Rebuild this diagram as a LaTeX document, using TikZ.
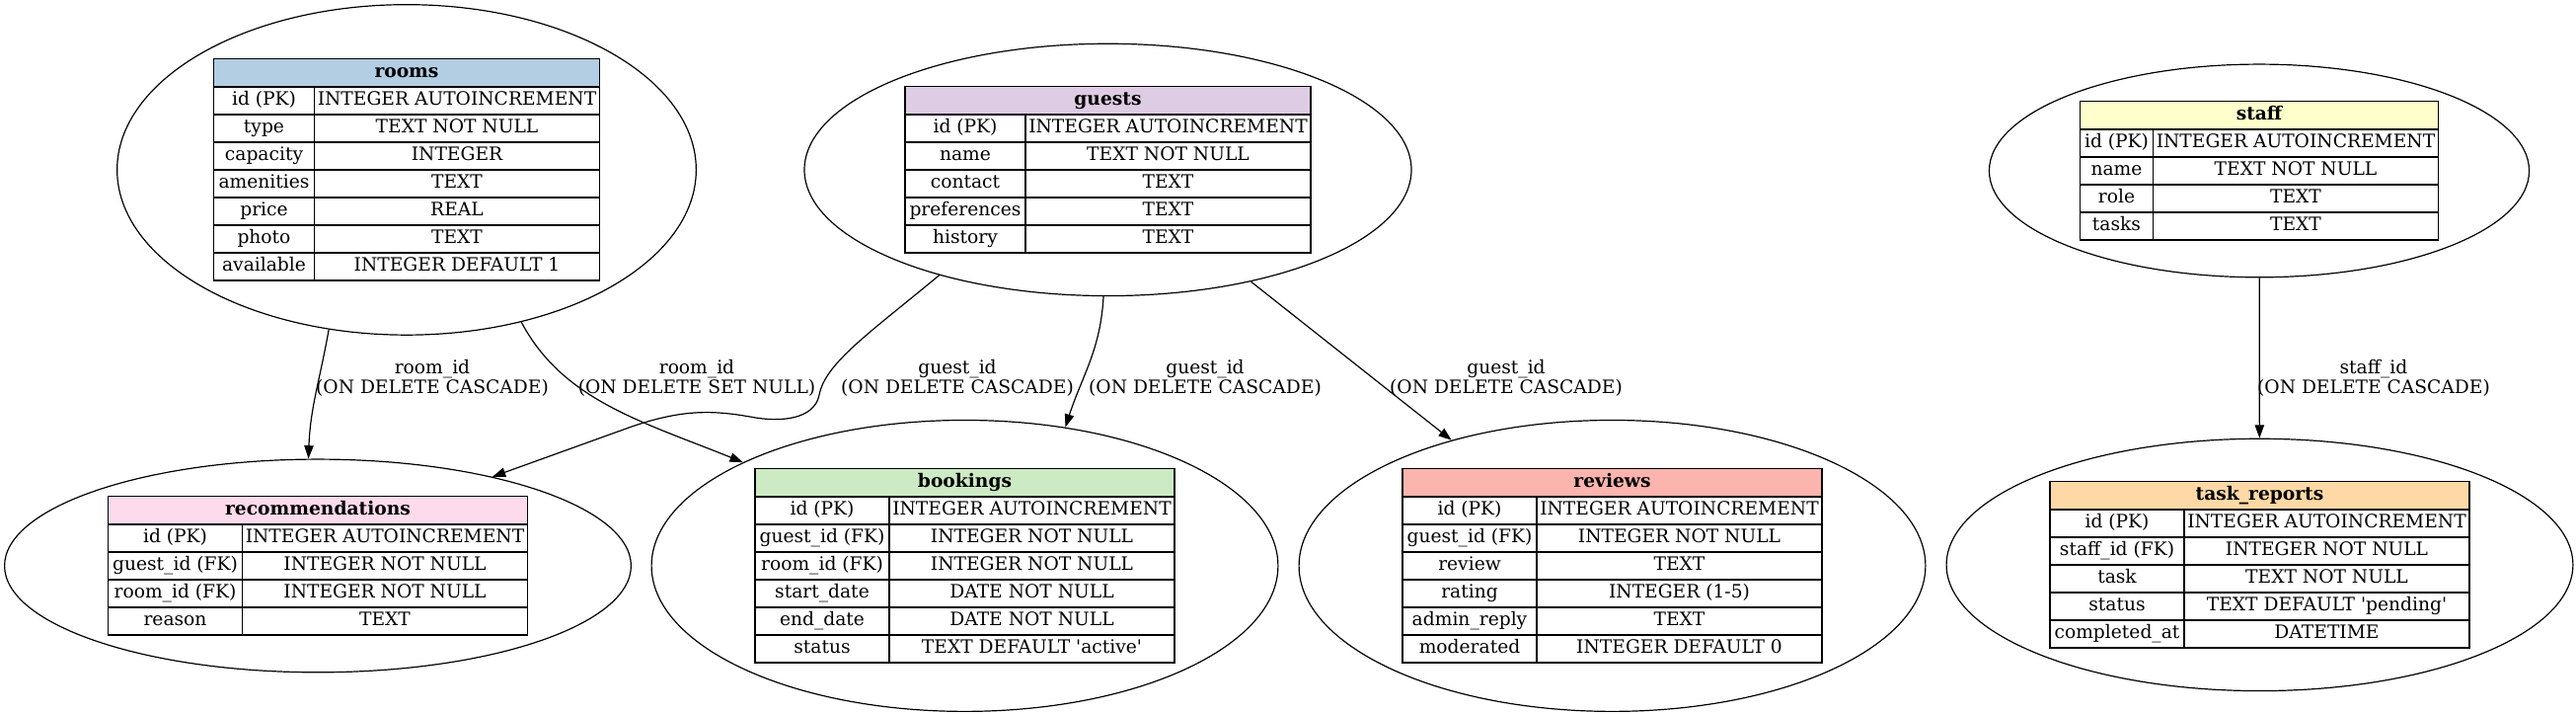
\documentclass[tikz,border=0pt]{standalone}
\usepackage{fontspec}
\setmainfont{DejaVu Serif}
\usepackage{tikz}
\usetikzlibrary{arrows.meta}
\usetikzlibrary{positioning}
\usetikzlibrary{matrix,fit,shapes.geometric}

\definecolor{roomsblue}{HTML}{B3CDE3}
\definecolor{guestspurple}{HTML}{DECBE4}
\definecolor{staffyellow}{HTML}{FFFFCC}
\definecolor{recspink}{HTML}{FDDAEC}
\definecolor{bookingsgreen}{HTML}{CCEBC5}
\definecolor{reviewsred}{HTML}{FBB4AE}
\definecolor{tasksorange}{HTML}{FED9A6}

\tikzset{%
  cellfont/.style={font=\fontsize{14}{16}\selectfont},
  tblhead/.style={draw,line width=1pt,font=\fontsize{14}{16}\selectfont\bfseries,
    minimum height=21pt,inner sep=0pt,text height=10.5pt,text depth=3.5pt,anchor=north},
  tblbody/.style={matrix of nodes,inner sep=0pt,column sep=-1pt,row sep=-1pt,
    nodes={draw,line width=1pt,cellfont,minimum height=21pt,inner sep=0pt,
      text height=10.5pt,text depth=3.5pt,anchor=center},
    column 2/.style={nodes={minimum width=216.75pt}}},
  tblellipse/.style={ellipse,draw,line width=0.9pt,inner xsep=8.25pt,inner ysep=4pt},
  fkedge/.style={->,line width=0.9pt},
  fklabel/.style={font=\fontsize{14}{15}\selectfont,align=center,inner sep=0pt}
}
\pgfkeys{tikz/firstcol/.style={column 1/.style={nodes={minimum width=#1}}}}
\newcommand\sq{\textquotesingle}

\begin{document}
\begin{tikzpicture}[x=0.75pt,y=0.75pt,>={Triangle[length=10pt,width=7pt]}]
    \path[use as bounding box,fill=white] (0,0) rectangle (2610,-723);

    % top row
    \node[tblhead,fill=roomsblue,minimum width=293.25pt] (roomsH) at (412,-59) {rooms};
    \matrix[tblbody,firstcol=76.5pt,ampersand replacement=\&,below=-1pt of roomsH] (rooms) {
        id (PK) \& INTEGER AUTOINCREMENT \\
        type \& TEXT NOT NULL \\
        capacity \& INTEGER \\
        amenities \& TEXT \\
        price \& REAL \\
        photo \& TEXT \\
        available \& INTEGER DEFAULT 1 \\
    };
    \node[tblellipse,fit=(roomsH)(rooms)] (roomsE) {};

    \node[tblhead,fill=guestspurple,minimum width=308.25pt] (guestsH) at (1122.5,-87) {guests};
    \matrix[tblbody,firstcol=91.5pt,ampersand replacement=\&,below=-1pt of guestsH] (guests) {
        id (PK) \& INTEGER AUTOINCREMENT \\
        name \& TEXT NOT NULL \\
        contact \& TEXT \\
        preferences \& TEXT \\
        history \& TEXT \\
    };
    \node[tblellipse,fit=(guestsH)(guests)] (guestsE) {};

    \node[tblhead,fill=staffyellow,minimum width=272.25pt] (staffH) at (2289,-102) {staff};
    \matrix[tblbody,firstcol=55.5pt,ampersand replacement=\&,below=-1pt of staffH] (staff) {
        id (PK) \& INTEGER AUTOINCREMENT \\
        name \& TEXT NOT NULL \\
        role \& TEXT \\
        tasks \& TEXT \\
    };
    \node[tblellipse,fit=(staffH)(staff)] (staffE) {};

    % bottom row
    \node[tblhead,fill=recspink,minimum width=318.75pt] (recsH) at (322,-502) {recommendations};
    \matrix[tblbody,firstcol=102pt,ampersand replacement=\&,below=-1pt of recsH] (recs) {
        id (PK) \& INTEGER AUTOINCREMENT \\
        guest\_id (FK) \& INTEGER NOT NULL \\
        room\_id (FK) \& INTEGER NOT NULL \\
        reason \& TEXT \\
    };
    \node[tblellipse,fit=(recsH)(recs)] (recsE) {};

    \node[tblhead,fill=bookingsgreen,minimum width=318.75pt] (bookingsH) at (977.5,-474) {bookings};
    \matrix[tblbody,firstcol=102pt,ampersand replacement=\&,below=-1pt of bookingsH] (bookings) {
        id (PK) \& INTEGER AUTOINCREMENT \\
        guest\_id (FK) \& INTEGER NOT NULL \\
        room\_id (FK) \& INTEGER NOT NULL \\
        start\_date \& DATE NOT NULL \\
        end\_date \& DATE NOT NULL \\
        status \& TEXT DEFAULT \sq active\sq \\
    };
    \node[tblellipse,fit=(bookingsH)(bookings)] (bookingsE) {};

    \node[tblhead,fill=reviewsred,minimum width=318.75pt] (reviewsH) at (1633.5,-474) {reviews};
    \matrix[tblbody,firstcol=102pt,ampersand replacement=\&,below=-1pt of reviewsH] (reviews) {
        id (PK) \& INTEGER AUTOINCREMENT \\
        guest\_id (FK) \& INTEGER NOT NULL \\
        review \& TEXT \\
        rating \& INTEGER (1-5) \\
        admin\_reply \& TEXT \\
        moderated \& INTEGER DEFAULT 0 \\
    };
    \node[tblellipse,fit=(reviewsH)(reviews)] (reviewsE) {};

    \node[tblhead,fill=tasksorange,minimum width=318.75pt] (tasksH) at (2289.5,-487) {task\_reports};
    \matrix[tblbody,firstcol=102pt,ampersand replacement=\&,below=-1pt of tasksH] (tasks) {
        id (PK) \& INTEGER AUTOINCREMENT \\
        staff\_id (FK) \& INTEGER NOT NULL \\
        task \& TEXT NOT NULL \\
        status \& TEXT DEFAULT \sq pending\sq \\
        completed\_at \& DATETIME \\
    };
    \node[tblellipse,fit=(tasksH)(tasks)] (tasksE) {};

    % foreign keys
    \draw[fkedge] (roomsE.-116) to[out=-100,in=88] (recsE.95);
    \draw[fkedge] (roomsE.-53) to[out=-62,in=158,out distance=67.5pt,in distance=82.5pt] (bookingsE.155);
    \draw[fkedge] (guestsE.-148) .. controls (880,-338) and (836,-368) .. (830,-400)
        .. controls (825,-425) and (790,-428) .. (760,-422)
        .. controls (720,-415) and (690,-415) .. (640,-432) -- (recsE.27);
    \draw[fkedge] (guestsE.-92) to[out=-93,in=72] (bookingsE.54);
    \draw[fkedge] (guestsE.-38) -- (reviewsE.142);
    \draw[fkedge] (staffE) -- (tasksE);

    \node[fklabel] (fk1) at (438,-383) {room\_id\\(ON DELETE CASCADE)};
    \node[fklabel] (fk2) at (706,-383) {room\_id\\(ON DELETE SET NULL)};
    \node[fklabel] (fk3) at (970,-383) {guest\_id\\(ON DELETE CASCADE)};
    \node[fklabel] (fk4) at (1221,-383) {guest\_id\\(ON DELETE CASCADE)};
    \node[fklabel] (fk5) at (1526,-383) {guest\_id\\(ON DELETE CASCADE)};
    \node[fklabel] (fk6) at (2405,-383) {staff\_id\\(ON DELETE CASCADE)};
\end{tikzpicture}
\end{document}
